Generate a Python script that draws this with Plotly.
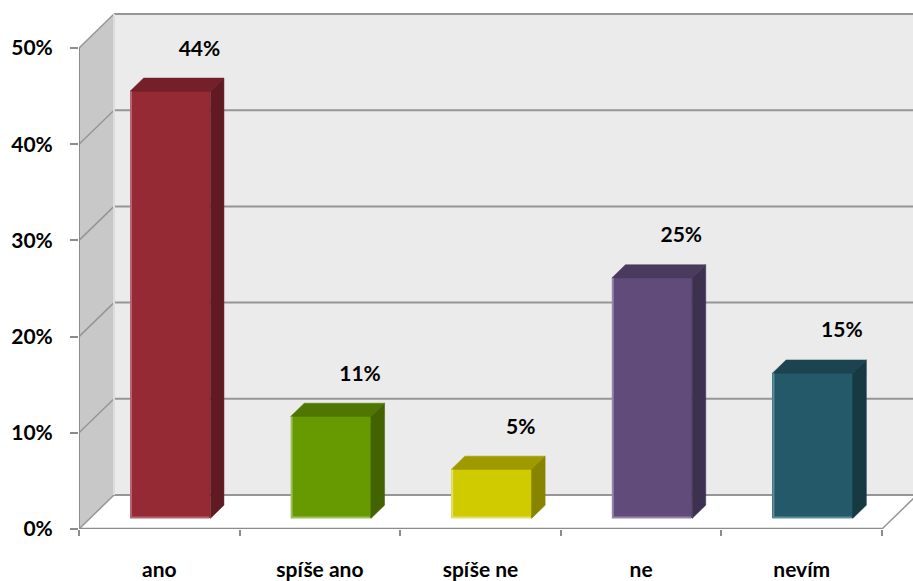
import plotly.graph_objects as go

# ---- data ----
categories = ["ano", "spíše ano", "spíše ne", "ne", "nevím"]
values = [0.444, 0.106, 0.051, 0.25, 0.151]
y_ticks = [0.0, 0.1, 0.2, 0.3, 0.4, 0.5]

# ---- styles ----
front_colors = ["#952A35", "#679A00", "#CFCB00", "#604B7A", "#235969"]
top_colors = ["#741F29", "#4F7600", "#9E9A00", "#4A3A5E", "#1B4450"]
side_colors = ["#611A22", "#426300", "#878400", "#3E3150", "#163942"]
edge_colors = ["#B56570", "#9CC060", "#E4E070", "#9585A8", "#5F8E9A"]

W, H = 913, 581
L, B = 79, 52
unit_x = (882 - 79) / 5.0
unit_y = (529 - 48) / 0.5
x_range = [-0.5, -0.5 + (W - L) / unit_x]
y_range = [0, (H - B) / unit_y]
DX = 35 / unit_x
DY = 34 / unit_y
F1, F2 = 0.31, 0.70
BW = 0.5
GRID = "#969696"
FONT = "Lato"

n = len(categories)
idx = list(range(n))
shapes = []

# back wall
shapes.append(dict(type="rect", xref="x", yref="y", x0=-0.5 + DX, x1=n - 0.5 + DX,
                   y0=DY, y1=0.5 + DY, fillcolor="#EBEBEB", line_width=0, layer="below"))
# side wall
shapes.append(dict(type="path", xref="x", yref="y",
                   path=f"M {-0.5} 0 L {-0.5} 0.5 L {-0.5+DX} {0.5+DY} L {-0.5+DX} {DY} Z",
                   fillcolor="#C8C8C8", line_width=0, layer="below"))
# back wall gridlines + side wall diagonals
for t in y_ticks:
    shapes.append(dict(type="line", xref="x", yref="y", x0=-0.5 + DX, x1=n - 0.5 + DX,
                       y0=t + DY, y1=t + DY, line=dict(color=GRID, width=2), layer="below"))
    shapes.append(dict(type="line", xref="x", yref="y", x0=-0.5, x1=-0.5 + DX,
                       y0=t, y1=t + DY, line=dict(color=GRID, width=1.5), layer="below"))
# back wall left edge
shapes.append(dict(type="line", xref="x", yref="y", x0=-0.5 + DX, x1=-0.5 + DX,
                   y0=DY, y1=0.5 + DY, line=dict(color="#DCDCDC", width=2), layer="below"))
# front vertical edge
shapes.append(dict(type="line", xref="x", yref="y", x0=-0.5, x1=-0.5,
                   y0=0, y1=0.5, line=dict(color="#8C8C8C", width=2), layer="below"))
# floor right edge
shapes.append(dict(type="line", xref="x", yref="y", x0=n - 0.5, x1=n - 0.5 + DX,
                   y0=0, y1=DY, line=dict(color=GRID, width=1.5), layer="below"))
# front axis line
shapes.append(dict(type="line", xref="x", yref="y", x0=-0.5, x1=n - 0.5,
                   y0=0, y1=0, line=dict(color="#8C8C8C", width=2.5), layer="below"))

fig = go.Figure()

# front faces
fig.add_trace(go.Bar(x=[i + F1 * DX for i in idx], y=values, base=F1 * DY, width=BW,
                     marker=dict(color=front_colors, line_width=0),
                     hoverinfo="skip", showlegend=False))

dDX = (F2 - F1) * DX
dDY = (F2 - F1) * DY
ex = 1.0 / unit_x
ey = 1.0 / unit_y
for i, v in zip(idx, values):
    xl = i + F1 * DX - BW / 2
    xr = xl + BW
    t = v + F1 * DY
    b0 = F1 * DY
    fig.add_trace(go.Scatter(x=[xl, xr, xr + dDX, xl + dDX, xl], y=[t, t, t + dDY, t + dDY, t],
                             fill="toself", fillcolor=top_colors[i], mode="lines",
                             line=dict(width=0.5, color=top_colors[i]),
                             hoverinfo="skip", showlegend=False))
    fig.add_trace(go.Scatter(x=[xr, xr, xr + dDX, xr + dDX, xr], y=[b0, t, t + dDY, b0 + dDY, b0],
                             fill="toself", fillcolor=side_colors[i], mode="lines",
                             line=dict(width=0.5, color=side_colors[i]),
                             hoverinfo="skip", showlegend=False))
    # light highlight along left and bottom edges of the front face
    fig.add_trace(go.Scatter(x=[xl + ex, xl + ex, xr - ex], y=[t, b0 + ey, b0 + ey],
                             mode="lines", line=dict(width=2, color=edge_colors[i]),
                             hoverinfo="skip", showlegend=False))

# value labels
fig.add_trace(go.Scatter(x=[i + 0.25 for i in idx], y=[v + F1 * DY + 0.0426 for v in values],
                         mode="text", text=[f"{v:.0%}" for v in values],
                         textposition="middle center",
                         textfont=dict(family=FONT, size=21, color="#000000", weight="bold"),
                         hoverinfo="skip", showlegend=False))

fig.update_layout(
    width=W, height=H,
    margin=dict(l=L, r=0, t=0, b=B, autoexpand=False),
    paper_bgcolor="white", plot_bgcolor="white",
    shapes=shapes,
    xaxis=dict(range=x_range, tickvals=idx, ticktext=categories, ticks="",
               showgrid=False, zeroline=False, showline=False, fixedrange=True,
               ticklabelstandoff=26,
               tickfont=dict(family=FONT, size=21, color="#000000", weight="bold"),
               minor=dict(tick0=0.5, dtick=1, ticks="outside", ticklen=6,
                          tickcolor="#8C8C8C", tickwidth=2, showgrid=False),
               automargin=False),
    yaxis=dict(range=y_range, tickvals=y_ticks, tickformat=".0%", ticks="outside",
               ticklen=8, tickcolor="#8C8C8C", tickwidth=1.5,
               showgrid=False, zeroline=False, showline=False, fixedrange=True,
               ticklabelstandoff=13,
               tickfont=dict(family=FONT, size=21, color="#000000", weight="bold"),
               automargin=False),
    bargap=0,
)

fig.write_html("out.html")
